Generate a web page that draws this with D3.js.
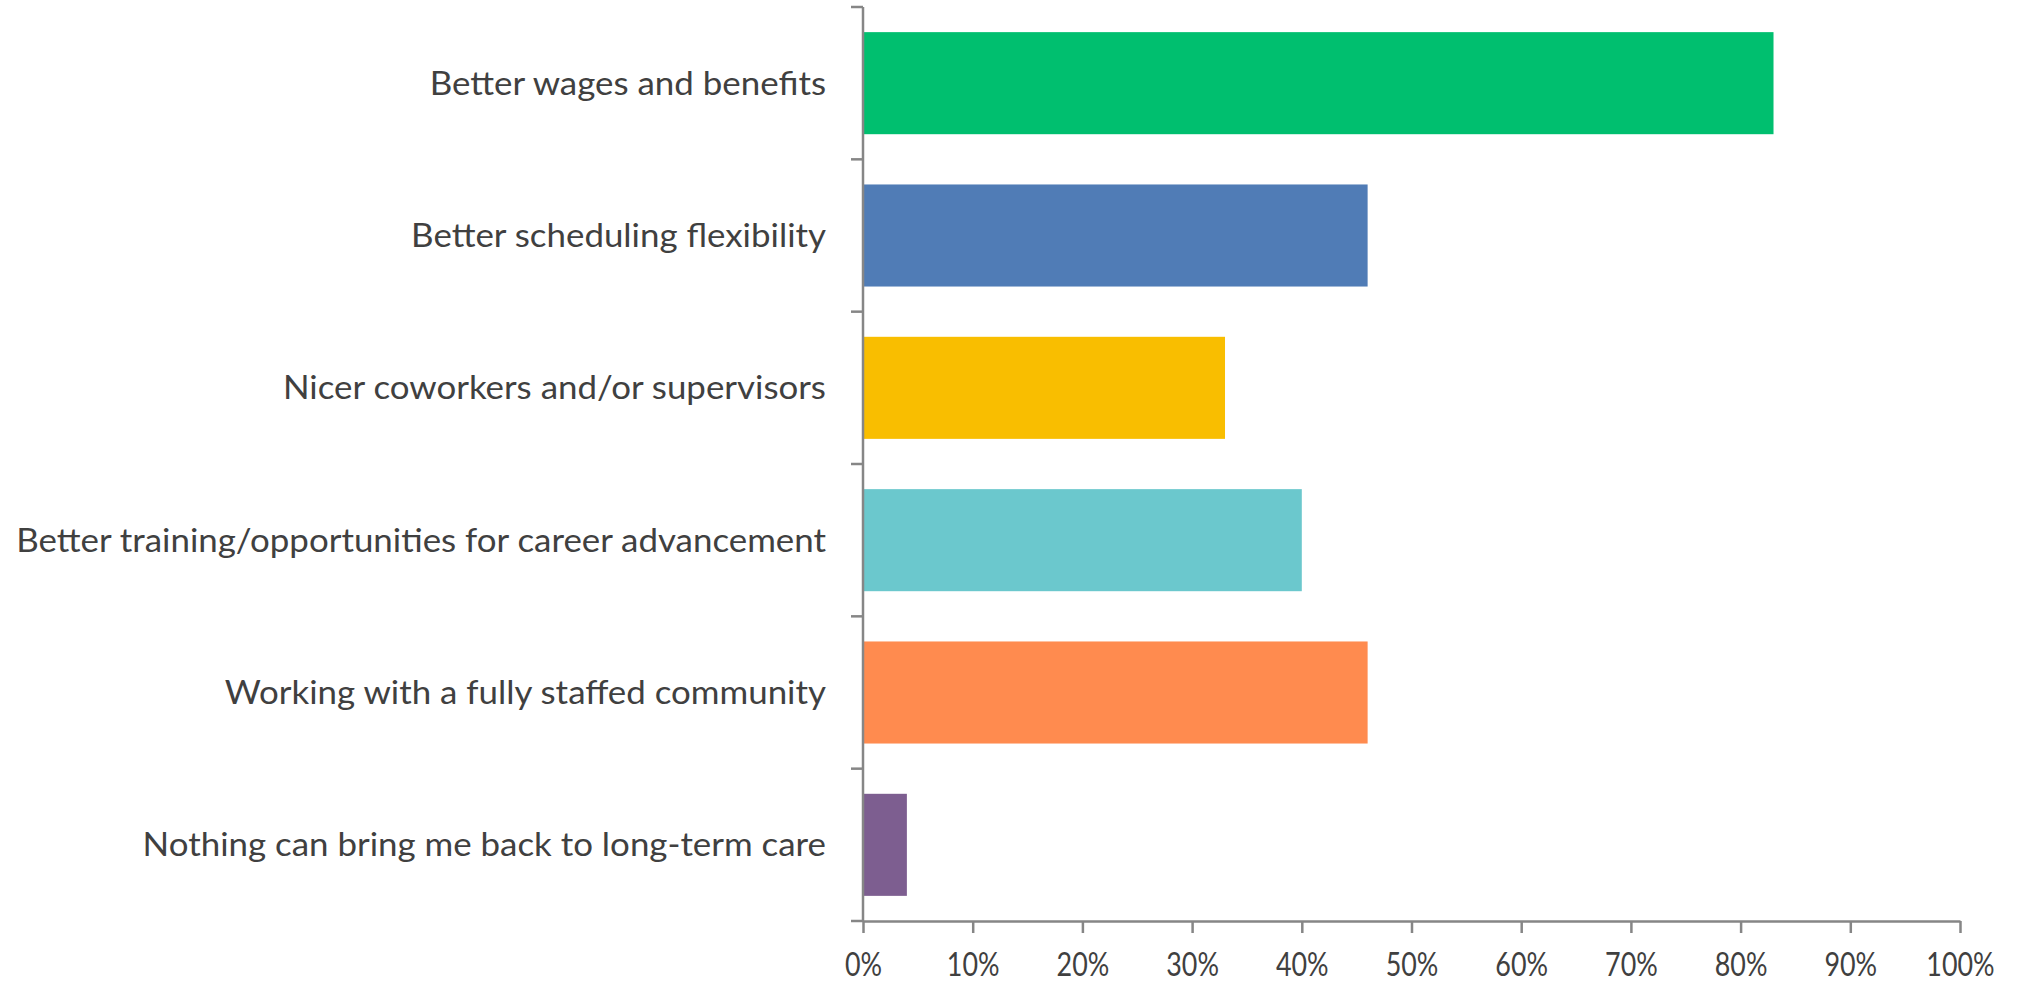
<!DOCTYPE html>
<html>
<head>
<meta charset="utf-8">
<script src="https://cdn.jsdelivr.net/npm/d3@7"></script>
<style>
  html, body { margin: 0; padding: 0; background: #fff; }
  svg { display: block; }
  text { font-family: Lato, "Open Sans", sans-serif; fill: #404040; }
</style>
</head>
<body>
<svg id="chart" width="2023" height="986"></svg>
<script>
// Reasons that would bring former staff back to long-term care (share of respondents)
const categories = [
  "Better wages and benefits",
  "Better scheduling flexibility",
  "Nicer coworkers and/or supervisors",
  "Better training/opportunities for career advancement",
  "Working with a fully staffed community",
  "Nothing can bring me back to long-term care"
];
const values = [0.83, 0.46, 0.33, 0.40, 0.46, 0.04];
const barColors = ["#00BF6F", "#507CB6", "#F9BE00", "#6BC8CD", "#FF8B4F", "#7D5E90"];
const xTicks = [0, 0.1, 0.2, 0.3, 0.4, 0.5, 0.6, 0.7, 0.8, 0.9, 1.0];

const svg = d3.select("#chart");
const margin = { left: 863, right: 63, top: 7, bottom: 65 };
const W = 2023, H = 986;
const axisColor = "#868686";
const fontSize = 32;
// horizontal stretch applied to text so the glyph proportions read like a humanist UI face
const labelStretch = 1.09;
const tickStretch = 0.84;

const x = d3.scaleLinear().domain([0, 1]).range([margin.left, W - margin.right]);
const y = d3.scaleBand().domain(categories)
  .range([margin.top, H - margin.bottom])
  .paddingInner(0.33).paddingOuter(0.165);

const data = categories.map((c, i) => ({ cat: c, value: values[i], color: barColors[i] }));

function stretch(sel, k) {
  sel.each(function () {
    const w = this.getComputedTextLength();
    d3.select(this).attr("textLength", w * k).attr("lengthAdjust", "spacingAndGlyphs");
  });
}

// Bars
svg.append("g").selectAll("rect").data(data).join("rect")
  .attr("x", x(0))
  .attr("y", d => y(d.cat))
  .attr("width", d => x(d.value) - x(0))
  .attr("height", y.bandwidth())
  .attr("fill", d => d.color);

// Category axis: boundary ticks between bands
const step = y.step();
const boundaries = d3.range(categories.length + 1).map(i => margin.top + i * step);
const yAxis = svg.append("g");
yAxis.append("line")
  .attr("x1", x(0)).attr("x2", x(0))
  .attr("y1", boundaries[0]).attr("y2", boundaries[boundaries.length - 1])
  .attr("stroke", axisColor).attr("stroke-width", 2.5);
yAxis.selectAll("line.tick").data(boundaries).join("line")
  .attr("class", "tick")
  .attr("x1", x(0) - 12).attr("x2", x(0))
  .attr("y1", d => d).attr("y2", d => d)
  .attr("stroke", axisColor).attr("stroke-width", 2.5);

// Category labels
svg.append("g").selectAll("text").data(data).join("text")
  .attr("x", x(0) - 37)
  .attr("y", d => y(d.cat) + y.bandwidth() / 2)
  .attr("dy", "0.36em")
  .attr("text-anchor", "end")
  .style("font-size", fontSize + "px")
  .text(d => d.cat)
  .call(stretch, labelStretch);

// Value axis
const xAxis = svg.append("g")
  .attr("transform", `translate(0,${boundaries[boundaries.length - 1]})`)
  .call(d3.axisBottom(x).tickValues(xTicks).tickFormat(d3.format(".0%"))
    .tickSizeInner(12).tickSizeOuter(0).tickPadding(20));
xAxis.select(".domain").attr("stroke", axisColor).attr("stroke-width", 2.5);
xAxis.selectAll(".tick line").attr("stroke", axisColor).attr("stroke-width", 2.5);
xAxis.selectAll(".tick text")
  .style("font-size", fontSize + "px")
  .style("font-family", "Lato, sans-serif")
  .attr("fill", "#404040")
  .call(stretch, tickStretch);
</script>
</body>
</html>
